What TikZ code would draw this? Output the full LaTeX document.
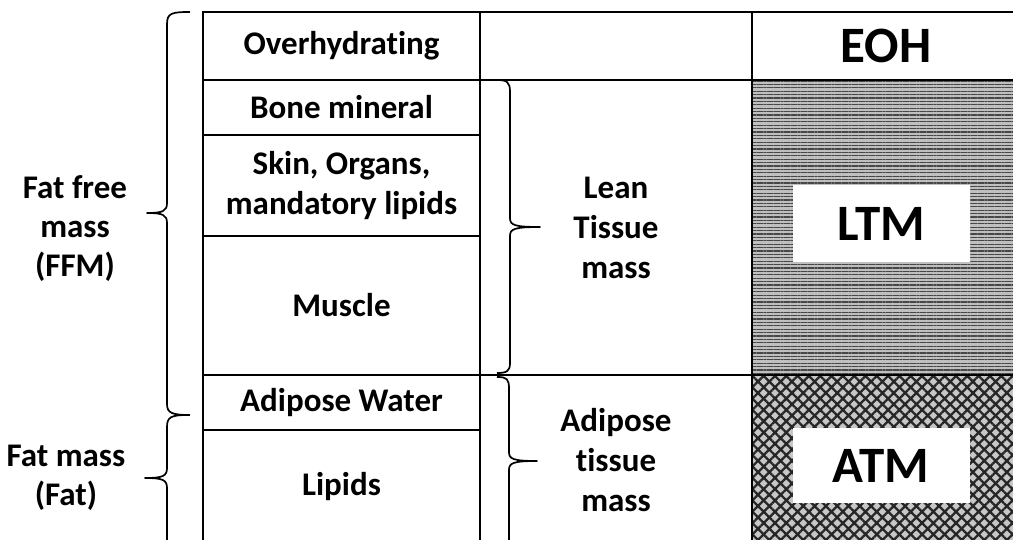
\documentclass[tikz,border=0pt]{standalone}
\usepackage{fontspec}
\setmainfont{Carlito}[Ligatures=NoCommon]
\usetikzlibrary{patterns.meta}
\begin{document}
\begin{tikzpicture}[x=1pt,y=-1pt,
  cell/.style={draw=black,line width=1.7pt,rectangle,inner sep=0pt,align=center,
    font=\fontsize{33}{40}\selectfont\bfseries,anchor=center},
  bigtxt/.style={font=\fontsize{51}{56}\selectfont\bfseries},
  sidetxt/.style={align=center,font=\fontsize{33}{39}\selectfont\bfseries},
  ltmfill/.style={rectangle,inner sep=0pt,draw=black,line width=1.7pt,
    preaction={fill=black!25},
    pattern={Lines[angle=0,distance=3.4pt,line width=1.2pt]},pattern color=black!72},
  atmfill/.style={rectangle,inner sep=0pt,draw=black,line width=1.7pt,
    preaction={fill=black!22},
    pattern={Hatch[angle=45,distance=8pt,line width=2.3pt]},pattern color=black!85},
  whitebox/.style={rectangle,fill=white,inner sep=0pt,minimum width=177pt,
    font=\fontsize{51}{56}\selectfont\bfseries},
  bracestroke/.style={line width=1.7pt,line join=round}
]
\useasboundingbox (0,0) rectangle (1013,540);
\fill[white] (0,0) rectangle (1013,540);

% right column patterned regions
\node[ltmfill,minimum width=268pt,minimum height=295pt] (ltmbg) at (886,227.5) {};
\node[atmfill,minimum width=268pt,minimum height=169pt] (atmbg) at (886,459.5) {};
\node[whitebox,minimum height=77pt] (ltm) at (881,223.5) {LTM};
\node[whitebox,minimum height=75pt] (atm) at (881,465.5) {ATM};

% column 1
\node[cell,minimum width=277pt,minimum height=68pt] (oh) at (341.5,46) {Overhydrating};
\node[cell,minimum width=277pt,minimum height=55pt] (bone) at (341.5,107.5) {Bone mineral};
\node[cell,minimum width=277pt,minimum height=101pt] (skin) at (341.5,185.5) {Skin, Organs,\\mandatory lipids};
\node[cell,minimum width=277pt,minimum height=139pt] (muscle) at (341.5,305.5) {Muscle};
\node[cell,minimum width=277pt,minimum height=55pt] (adw) at (341.5,402.5) {Adipose Water};
\node[cell,minimum width=277pt,minimum height=114pt] (lipids) at (341.5,487) {Lipids};

% column 2
\node[cell,minimum width=272pt,minimum height=68pt] (empty) at (616,46) {};
\node[cell,minimum width=272pt,minimum height=295pt] (lean) at (616,227.5) {Lean\\Tissue\\mass};
\node[cell,minimum width=272pt,minimum height=169pt,text depth=0pt] (adip) at (616,459.5) {Adipose\\tissue\\mass};

% column 3 top
\node[cell,minimum width=268pt,minimum height=68pt,bigtxt] (eoh) at (886,46) {EOH};

% left labels
\node[sidetxt] (ffm) at (75,229) {Fat free\\mass\\(FFM)};
\node[sidetxt] (fm) at (66,478) {Fat mass\\(Fat)};

% braces
\draw[bracestroke] (190,12) .. controls (172,12) and (167,13) .. (167,24)
  -- (167,203) .. controls (167,211) and (163,213) .. (147,213)
  .. controls (163,213) and (167,215) .. (167,223)
  -- (167,404) .. controls (167,413) and (172,415) .. (190,415);
\draw[bracestroke] (188,415) .. controls (171,415) and (167,417) .. (167,427)
  -- (167,468) .. controls (167,476) and (163,478) .. (145,478)
  .. controls (163,478) and (167,480) .. (167,488) -- (167,545);
\draw[bracestroke] (497,80) .. controls (507,80) and (510,82) .. (510,92)
  -- (510,218) .. controls (510,225) and (514,227) .. (540,227)
  .. controls (514,227) and (510,229) .. (510,236)
  -- (510,363) .. controls (510,371) and (507,373) .. (497,373);
\draw[bracestroke] (497,377) .. controls (507,377) and (509,379) .. (509,389)
  -- (509,452) .. controls (509,459) and (513,461) .. (537,461)
  .. controls (513,461) and (509,463) .. (509,470) -- (509,545);
\end{tikzpicture}
\end{document}
